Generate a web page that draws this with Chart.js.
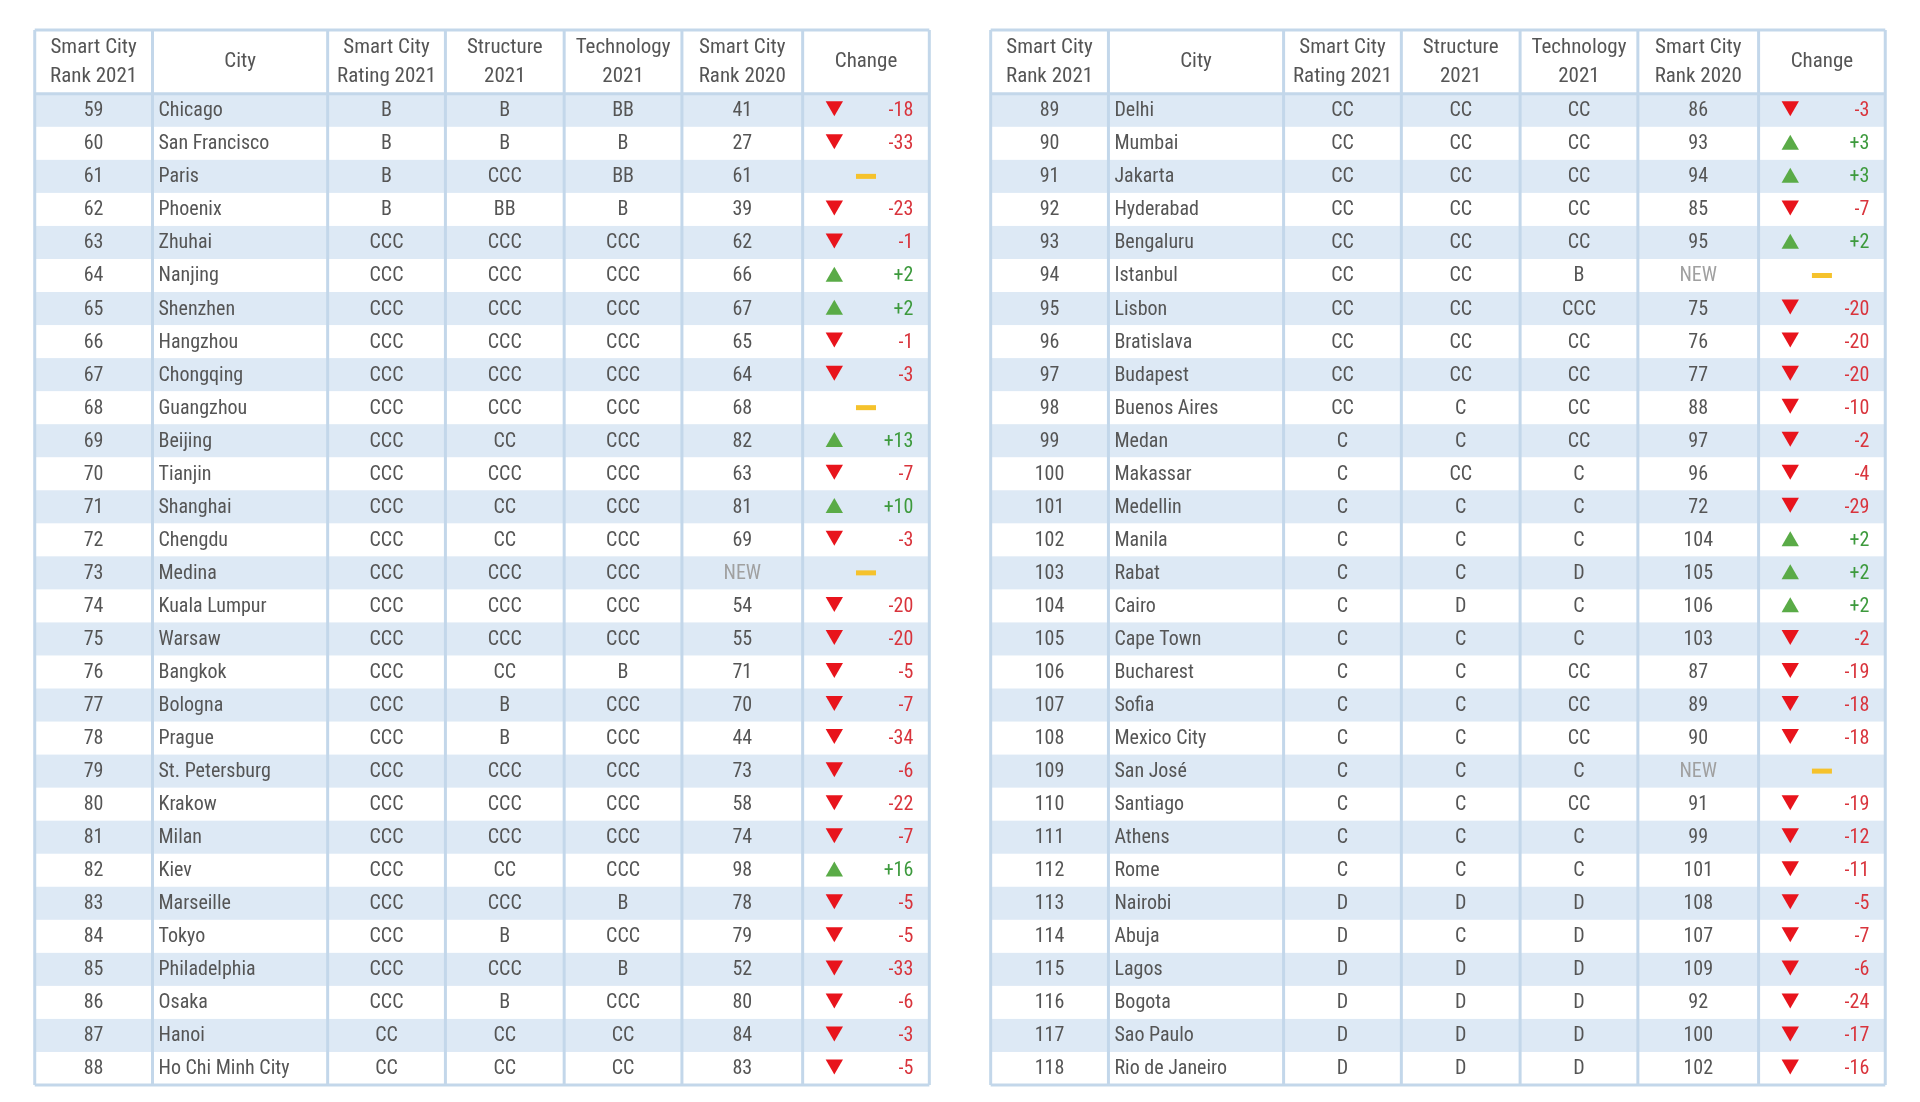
<!DOCTYPE html>
<html>
<head>
<meta charset="utf-8">
<script src="https://cdn.jsdelivr.net/npm/chart.js@4"></script>
<style>
  html, body { margin: 0; padding: 0; background: #fff; }
  #wrap { width: 1920px; height: 1102px; }
</style>
</head>
<body>
<div id="wrap"><canvas id="myChart" width="1920" height="1102"></canvas></div>
<script>
// Smart city ranking table (two halves), drawn on a Chart.js canvas

const headers = ['Smart City\nRank 2021', 'City', 'Smart City\nRating 2021', 'Structure\n2021', 'Technology\n2021', 'Smart City\nRank 2020', 'Change'];

const ranks2021 = [59,60,61,62,63,64,65,66,67,68,69,70,71,72,73,74,75,76,77,78,79,80,81,82,83,84,85,86,87,88,
                   89,90,91,92,93,94,95,96,97,98,99,100,101,102,103,104,105,106,107,108,109,110,111,112,113,114,115,116,117,118];
const cities = ['Chicago','San Francisco','Paris','Phoenix','Zhuhai','Nanjing','Shenzhen','Hangzhou','Chongqing','Guangzhou',
                'Beijing','Tianjin','Shanghai','Chengdu','Medina','Kuala Lumpur','Warsaw','Bangkok','Bologna','Prague',
                'St. Petersburg','Krakow','Milan','Kiev','Marseille','Tokyo','Philadelphia','Osaka','Hanoi','Ho Chi Minh City',
                'Delhi','Mumbai','Jakarta','Hyderabad','Bengaluru','Istanbul','Lisbon','Bratislava','Budapest','Buenos Aires',
                'Medan','Makassar','Medellin','Manila','Rabat','Cairo','Cape Town','Bucharest','Sofia','Mexico City',
                'San José','Santiago','Athens','Rome','Nairobi','Abuja','Lagos','Bogota','Sao Paulo','Rio de Janeiro'];
const ratings = ['B','B','B','B','CCC','CCC','CCC','CCC','CCC','CCC','CCC','CCC','CCC','CCC','CCC','CCC','CCC','CCC','CCC','CCC',
                 'CCC','CCC','CCC','CCC','CCC','CCC','CCC','CCC','CC','CC',
                 'CC','CC','CC','CC','CC','CC','CC','CC','CC','CC','C','C','C','C','C','C','C','C','C','C',
                 'C','C','C','C','D','D','D','D','D','D'];
const structures = ['B','B','CCC','BB','CCC','CCC','CCC','CCC','CCC','CCC','CC','CCC','CC','CC','CCC','CCC','CCC','CC','B','B',
                    'CCC','CCC','CCC','CC','CCC','B','CCC','B','CC','CC',
                    'CC','CC','CC','CC','CC','CC','CC','CC','CC','C','C','CC','C','C','C','D','C','C','C','C',
                    'C','C','C','C','D','C','D','D','D','D'];
const technologies = ['BB','B','BB','B','CCC','CCC','CCC','CCC','CCC','CCC','CCC','CCC','CCC','CCC','CCC','CCC','CCC','B','CCC','CCC',
                      'CCC','CCC','CCC','CCC','B','CCC','B','CCC','CC','CC',
                      'CC','CC','CC','CC','CC','B','CCC','CC','CC','CC','CC','C','C','C','D','C','C','CC','CC','CC',
                      'C','CC','C','C','D','D','D','D','D','D'];
const ranks2020 = [41,27,61,39,62,66,67,65,64,68,82,63,81,69,null,54,55,71,70,44,73,58,74,98,78,79,52,80,84,83,
                   86,93,94,85,95,null,75,76,77,88,97,96,72,104,105,106,103,87,89,90,null,91,99,101,108,107,109,92,100,102];
const changes = [-18,-33,0,-23,-1,2,2,-1,-3,0,13,-7,10,-3,0,-20,-20,-5,-7,-34,-6,-22,-7,16,-5,-5,-33,-6,-3,-5,
                 -3,3,3,-7,2,0,-20,-20,-20,-10,-2,-4,-29,2,2,2,-2,-19,-18,-18,0,-19,-12,-11,-5,-7,-6,-24,-17,-16];

// layout: column edges of each half, in x-scale units
const ROWS = 30;
const HEAD = 1.93;
const colEdges = [
  [25, 144, 321, 440, 560, 679, 801, 929],
  [991, 1110, 1287, 1406, 1526, 1645, 1767, 1895]
];
const markOffset = 32, dashOffset = 64, numPad = 16;
const downShift = 0.12; // rotated triangles sit low, pull them back to the row middle

const FONT = '"Liberation Sans Narrow", "Roboto Condensed", Roboto, sans-serif';
const textColor = '#555555';
const stripe = '#dde9f5';
const gridColor = '#c3d7ea';

const downPts = [], upPts = [], flatPts = [];
changes.forEach((c, i) => {
  const e = colEdges[Math.floor(i / ROWS)];
  const row = i % ROWS + 0.5;
  if (c < 0) downPts.push({x: e[6] + markOffset, y: row - downShift});
  else if (c > 0) upPts.push({x: e[6] + markOffset, y: row + 0.04});
  else flatPts.push({x: e[6] + dashOffset, y: row});
});

const tablePlugin = {
  id: 'table',
  beforeDatasetsDraw(chart) {
    const ctx = chart.ctx, xs = chart.scales.x, ys = chart.scales.y;
    const X = v => xs.getPixelForValue(v), Y = v => ys.getPixelForValue(v);
    ctx.save();
    colEdges.forEach((e, t) => {
      const left = X(e[0]), right = X(e[7]);
      // striped rows
      for (let r = 0; r < ROWS; r += 2) {
        ctx.fillStyle = stripe;
        ctx.fillRect(left, Y(r), right - left, Y(r + 1) - Y(r));
      }
      // grid
      ctx.strokeStyle = gridColor;
      ctx.lineWidth = 3;
      e.forEach(v => { ctx.beginPath(); ctx.moveTo(X(v), Y(-HEAD)); ctx.lineTo(X(v), Y(ROWS)); ctx.stroke(); });
      [-HEAD, 0, ROWS].forEach(v => { ctx.beginPath(); ctx.moveTo(left, Y(v)); ctx.lineTo(right, Y(v)); ctx.stroke(); });
      // header
      ctx.fillStyle = '#555555';
      ctx.font = '21px ' + FONT;
      ctx.textAlign = 'center';
      ctx.textBaseline = 'middle';
      headers.forEach((h, c) => {
        const cx = (X(e[c]) + X(e[c + 1])) / 2;
        const lines = h.split('\n');
        const mid = Y(-HEAD / 2);
        lines.forEach((l, k) => ctx.fillText(l, cx, mid + (k - (lines.length - 1) / 2) * 29));
      });
      // body
      for (let r = 0; r < ROWS; r++) {
        const i = t * ROWS + r;
        const cy = Y(r + 0.5) + 1;
        const mid = c => (X(e[c]) + X(e[c + 1])) / 2;
        ctx.font = '20px ' + FONT;
        ctx.fillStyle = textColor;
        ctx.textAlign = 'center';
        ctx.fillText(String(ranks2021[i]), mid(0), cy);
        ctx.fillText(ratings[i], mid(2), cy);
        ctx.fillText(structures[i], mid(3), cy);
        ctx.fillText(technologies[i], mid(4), cy);
        if (ranks2020[i] === null) { ctx.fillStyle = '#a0a0a0'; ctx.fillText('NEW', mid(5), cy); }
        else ctx.fillText(String(ranks2020[i]), mid(5), cy);
        ctx.fillStyle = textColor;
        ctx.textAlign = 'left';
        ctx.fillText(cities[i], X(e[1]) + 6, cy);
        if (changes[i] !== 0) {
          ctx.textAlign = 'right';
          ctx.fillStyle = changes[i] < 0 ? '#d9343c' : '#3d9a3d';
          ctx.fillText((changes[i] > 0 ? '+' : '-') + Math.abs(changes[i]), X(e[7]) - numPad, cy);
        }
      }
    });
    ctx.restore();
  }
};

new Chart(document.getElementById('myChart'), {
  type: 'scatter',
  data: {
    datasets: [
      { data: downPts, pointStyle: 'triangle', rotation: 180, pointRadius: 10, backgroundColor: '#e8141c', borderWidth: 0 },
      { data: upPts, pointStyle: 'triangle', pointRadius: 10, backgroundColor: '#5aab47', borderWidth: 0 },
      { data: flatPts, pointStyle: 'rect', pointRadius: 0.001, backgroundColor: '#f5c22c', borderWidth: 0 }
    ]
  },
  options: {
    responsive: false,
    animation: false,
    devicePixelRatio: 1,
    layout: { padding: { top: 30, bottom: 17, left: 0, right: 0 } },
    scales: {
      x: { type: 'linear', min: 0, max: 1920, display: false },
      y: { type: 'linear', min: -HEAD, max: ROWS, reverse: true, display: false }
    },
    plugins: { legend: { display: false }, tooltip: { enabled: false } }
  },
  plugins: [tablePlugin, {
    id: 'dash',
    afterDatasetsDraw(chart) {
      // flat-change markers: short yellow bars at the dataset's own points
      const ctx = chart.ctx;
      ctx.save();
      ctx.fillStyle = '#f5c22c';
      chart.getDatasetMeta(2).data.forEach(p => ctx.fillRect(p.x - 10, p.y - 2.5, 20, 5));
      ctx.restore();
    }
  }]
});
</script>
</body>
</html>
